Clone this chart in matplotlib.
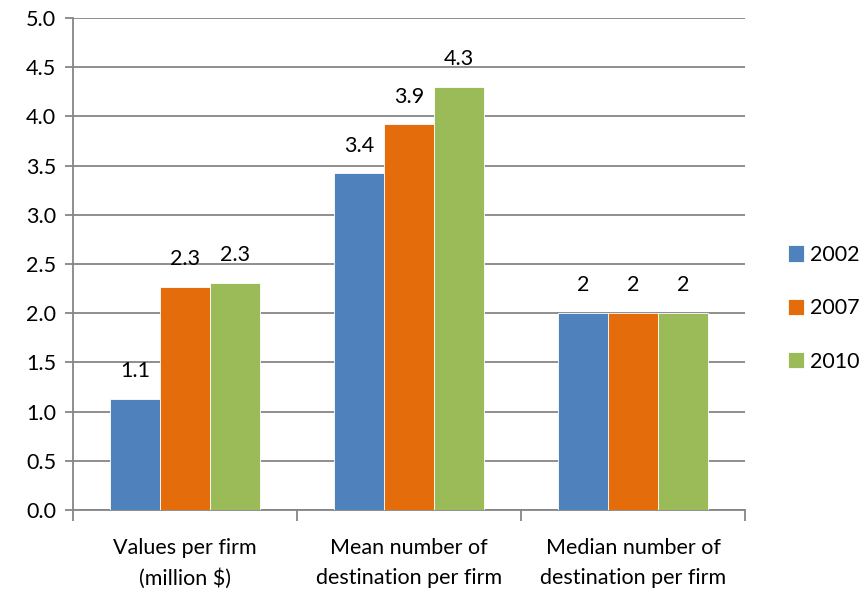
import matplotlib.pyplot as plt
import numpy as np

plt.rcParams['font.family'] = ['Lato', 'DejaVu Sans']

categories = ['Values per firm\n(million $)',
              'Mean number of\ndestination per firm',
              'Median number of\ndestination per firm']
years = ['2002', '2007', '2010']
values_2002 = [1.13, 3.42, 2.0]
values_2007 = [2.27, 3.92, 2.0]
values_2010 = [2.31, 4.30, 2.0]
label_fmt = ['{:.1f}', '{:.1f}', '{:.0f}']

series = [values_2002, values_2007, values_2010]
colors = ['#4f81bd', '#e46c0a', '#9bbb59']

fig = plt.figure(figsize=(8.67, 5.97), dpi=100)
ax = fig.add_axes([73 / 867, 87 / 597, 672 / 867, 492 / 597])

x = np.arange(len(categories))
width = 0.223
grid_color = '#868686'
fs = 15.5

for i, (vals, color, year) in enumerate(zip(series, colors, years)):
    pos = x + (i - 1) * width
    ax.bar(pos, vals, width, color=color, label=year, zorder=3,
           edgecolor='white', linewidth=0.6)
    for p, v, fmt in zip(pos, vals, label_fmt):
        ax.text(p, v + 0.18, fmt.format(v), ha='center', va='bottom',
                fontsize=fs, color='black')

ax.set_xlim(-0.5, 2.5)
ax.set_ylim(0, 5)
ax.set_yticks(np.arange(0, 5.01, 0.5))
ax.set_yticklabels([f'{v:.1f}' for v in np.arange(0, 5.01, 0.5)])
ax.yaxis.grid(True, color=grid_color, linewidth=1.3, zorder=0)
ax.set_axisbelow(True)

# category boundaries carry the x ticks
ax.set_xticks([-0.5, 0.5, 1.5, 2.5])
ax.set_xticklabels([])
ax.set_xticks(x, minor=True)
ax.set_xticklabels(categories, minor=True, fontsize=fs, linespacing=1.65)
ax.tick_params(axis='x', which='minor', length=0, pad=20)
ax.tick_params(axis='x', which='major', length=8, width=1.3, color=grid_color)
ax.tick_params(axis='y', length=6, width=1.3, color=grid_color, labelsize=fs, pad=6)

for side in ['top', 'right']:
    ax.spines[side].set_visible(False)
for side in ['left', 'bottom']:
    ax.spines[side].set_color(grid_color)
    ax.spines[side].set_linewidth(1.3)

ax.legend(loc='center left', bbox_to_anchor=(1.035, 0.41), frameon=False,
          fontsize=fs, handlelength=0.75, handleheight=0.8, handletextpad=0.3,
          labelspacing=1.55)

fig.savefig('out.png', dpi=100)
